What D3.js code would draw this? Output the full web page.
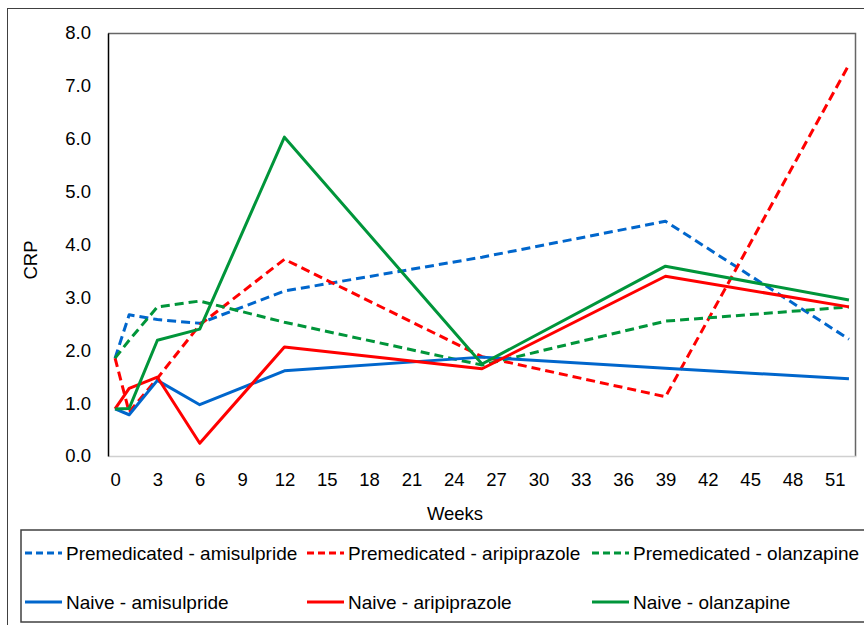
<!DOCTYPE html>
<html>
<head>
<meta charset="utf-8">
<script src="https://cdn.jsdelivr.net/npm/d3@7"></script>
<style>
  body { margin: 0; background: #fff; }
  svg { font-family: "Liberation Sans", Arial, sans-serif; }
</style>
</head>
<body>
<svg id="chart"></svg>
<script>
'use strict';

const WIDTH = 864;
const HEIGHT = 625;
const TICK_FONT = 18.5;
const LEGEND_FONT = 19;

// data
const weeks = [0, 1, 3, 6, 12, 26, 39, 52];
const premedAmisulpride  = [1.85, 2.67, 2.58, 2.51, 3.12, 3.76, 4.44, 2.21];
const premedAripiprazole = [1.85, 0.83, 1.47, 2.48, 3.72, 1.88, 1.12, 7.40];
const premedOlanzapine   = [1.85, 2.19, 2.82, 2.93, 2.53, 1.72, 2.55, 2.82];
const naiveAmisulpride   = [0.89, 0.78, 1.43, 0.97, 1.61, 1.87, 1.66, 1.46];
const naiveAripiprazole  = [0.89, 1.28, 1.49, 0.24, 2.06, 1.65, 3.40, 2.82];
const naiveOlanzapine    = [0.89, 0.90, 2.19, 2.40, 6.03, 1.74, 3.59, 2.95];

const xTicks = d3.range(0, 52, 3);
const yTicks = d3.range(0, 9, 1);

const BLUE = "#0066cc";
const RED = "#ff0000";
const GREEN = "#00953a";

const series = [
    {name: "Premedicated - amisulpride", values: premedAmisulpride, color: BLUE, dashed: true},
    {name: "Premedicated - aripiprazole", values: premedAripiprazole, color: RED, dashed: true},
    {name: "Premedicated - olanzapine", values: premedOlanzapine, color: GREEN, dashed: true},
    {name: "Naive - amisulpride", values: naiveAmisulpride, color: BLUE, dashed: false},
    {name: "Naive - aripiprazole", values: naiveAripiprazole, color: RED, dashed: false},
    {name: "Naive - olanzapine", values: naiveOlanzapine, color: GREEN, dashed: false}
];

const plot = {left: 108, right: 856, top: 33, bottom: 456};

const svg = d3.select("svg#chart")
              .attr("width", WIDTH)
              .attr("height", HEIGHT);

// outer frame
svg.append("rect")
   .attr("x", 7.5).attr("y", 8.5)
   .attr("width", 900).attr("height", 700)
   .attr("fill", "none")
   .attr("stroke", "#404040")
   .attr("stroke-width", 1);

const xScale = d3.scaleLinear()
                 .domain([-0.5, 52.5])
                 .range([plot.left, plot.right]);
const yScale = d3.scaleLinear()
                 .domain([0, 8])
                 .range([plot.bottom, plot.top]);

// plot area border (top/right grey)
svg.append("path")
   .attr("d", `M${plot.left},${plot.top + 0.5}H${plot.right - 0.5}V${plot.bottom}`)
   .attr("fill", "none")
   .attr("stroke", "#666")
   .attr("stroke-width", 1.5);

// x axis
const xAxis = d3.axisBottom(xScale)
                .tickValues(xTicks)
                .tickSize(0)
                .tickPadding(17)
                .tickFormat(d => String(d));
const gx = svg.append("g")
              .attr("transform", "translate(0," + plot.bottom + ")")
              .call(xAxis);
gx.select(".domain").attr("stroke", "#d0d0d0").attr("stroke-width", 1.5);
gx.selectAll("text").attr("font-size", TICK_FONT).attr("fill", "#000");

// y axis
const yAxis = d3.axisLeft(yScale)
                .tickValues(yTicks)
                .tickSize(0)
                .tickPadding(17)
                .tickFormat(d3.format(".1f"));
const gy = svg.append("g")
              .attr("transform", "translate(" + plot.left + ",0)")
              .call(yAxis);
gy.select(".domain").attr("stroke", "#000").attr("stroke-width", 1.5);
gy.selectAll("text").attr("font-size", TICK_FONT).attr("fill", "#000");

// axis titles
svg.append("text")
   .attr("x", 455).attr("y", 520)
   .attr("text-anchor", "middle")
   .attr("font-size", TICK_FONT)
   .text("Weeks");

svg.append("text")
   .attr("transform", "translate(37,260) rotate(-90)")
   .attr("text-anchor", "middle")
   .attr("font-size", TICK_FONT)
   .text("CRP");

// lines
const line = d3.line()
               .x((d, i) => xScale(weeks[i]))
               .y(d => yScale(d));

svg.append("g")
   .selectAll("path")
   .data(series)
   .enter()
   .append("path")
   .attr("fill", "none")
   .attr("stroke", d => d.color)
   .attr("stroke-width", 3)
   .attr("stroke-dasharray", d => d.dashed ? "9,5" : null)
   .attr("stroke-linejoin", "round")
   .attr("d", d => line(d.values));

// legend
svg.append("rect")
   .attr("x", 21).attr("y", 530)
   .attr("width", 900).attr("height", 92)
   .attr("fill", "none")
   .attr("stroke", "#404040")
   .attr("stroke-width", 1.5);

const colX = [25, 307, 592];
const rowY = [553, 602];

const items = svg.append("g")
                 .selectAll("g")
                 .data(series)
                 .enter()
                 .append("g")
                 .attr("transform", (d, i) => "translate(" + colX[i % 3] + "," + rowY[Math.floor(i / 3)] + ")");

items.append("line")
     .attr("x1", 0).attr("x2", 37)
     .attr("y1", 0).attr("y2", 0)
     .attr("stroke", d => d.color)
     .attr("stroke-width", 3)
     .attr("stroke-dasharray", d => d.dashed ? "7,4" : null);

items.append("text")
     .attr("x", 41).attr("y", 0)
     .attr("dy", "0.35em")
     .attr("font-size", LEGEND_FONT)
     .text(d => d.name);
</script>
</body>
</html>
